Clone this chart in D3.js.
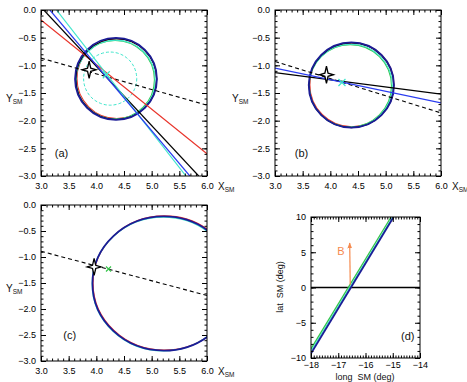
<!DOCTYPE html>
<html>
<head>
<meta charset="utf-8">
<script src="https://cdn.jsdelivr.net/npm/d3@7"></script>
<style>
  body { margin: 0; background: #fff; }
  text { font-family: "Liberation Sans", Arial, sans-serif; white-space: pre; }
</style>
</head>
<body>
<svg id="chart" width="467" height="382"></svg>
<script>
// Tick labels

const smXTicks = [3.0, 3.5, 4.0, 4.5, 5.0, 5.5, 6.0]
const smXLabels = ['3.0', '3.5', '4.0', '4.5', '5.0', '5.5', '6.0']
const smYTicks = [0, -0.5, -1.0, -1.5, -2.0, -2.5, -3.0]
const smYLabels = ['0.0', '−0.5', '−1.0', '−1.5', '−2.0', '−2.5', '−3.0']
const longTicks = [-18, -17, -16, -15, -14]
const longLabels = ['−18', '−17', '−16', '−15', '−14']
const latTicks = [10, 5, 0, -5, -10]
const latLabels = ['10', '5', '0', '−5', '−10']

// Panel (a): circles are [x, y, r]

const aCircles = [[4.37, -1.24, 0.72], [4.34, -1.26, 0.71], [4.35, -1.26, 0.715], [4.36, -1.25, 0.73], [4.355, -1.245, 0.74]]
const aInnerCircle = [4.25, -1.24, 0.48]
const aDashed = [[3.0, -0.87], [6.0, -1.72]]
const aRed = [[3.0, -0.18], [6.0, -2.60]]
const aBlack = [[3.05, 0], [5.85, -3.0]]
const aBlue = [[3.16, 0], [5.69, -3.0]]
const aCyan = [[3.28, 0], [5.62, -3.0]]
const aStar = [3.87, -1.08]
const aCross = [4.18, -1.17]

// Panel (b)

const bCircles = [[4.39, -1.35, 0.76], [4.36, -1.37, 0.745], [4.37, -1.37, 0.75], [4.38, -1.36, 0.765], [4.38, -1.355, 0.77]]
const bDashed = [[3.0, -0.93], [6.0, -1.86]]
const bBlack = [[3.0, -1.13], [6.0, -1.52]]
const bBlue = [[3.0, -1.05], [6.0, -1.68]]
const bStar = [3.93, -1.17]
const bCross = [4.21, -1.31]

// Panel (c)

const cCircles = [[5.23, -1.50, 1.29], [5.21, -1.52, 1.285], [5.22, -1.51, 1.29]]
const cDashed = [[3.0, -0.89], [6.0, -1.74]]
const cStar = [3.96, -1.19]
const cCross = [4.22, -1.23]

// Panel (d)

const dGreen = [[-18, -8.7], [-15.06, 10]]
const dCyan = [[-18, -9.0], [-15.0, 10]]
const dBlue = [[-18, -9.35], [-14.97, 10]]
const dZero = [[-18, 0], [-14, 0]]
const dArrow = [[-16.56, 0.4], [-16.58, 6.3]]
const dArrowLabel = [-16.9, 5.1]

const COLORS = {
  navy: '#1c1c96',
  blue: '#2a3cf0',
  red: '#e8332a',
  cyan: '#3fe6cc',
  green: '#36c44a',
  black: '#000',
  orange: '#f58a4e',
}

const svg = d3.select('#chart')

const defs = svg.append('defs')
defs.append('marker')
  .attr('id', 'arrow')
  .attr('viewBox', '0 0 10 10')
  .attr('refX', 9).attr('refY', 5)
  .attr('markerWidth', 5).attr('markerHeight', 5)
  .attr('orient', 'auto')
  .append('path')
  .attr('d', 'M0,1L10,5L0,9Z')
  .attr('fill', COLORS.orange)

function panel({ id, left, top, width, height, xDomain, yDomain, xt, xl, yt, yl, xMinor, yMinor, xPad = 7 }) {
  const x = d3.scaleLinear().domain(xDomain).range([0, width])
  const y = d3.scaleLinear().domain(yDomain).range([height, 0])
  const g = svg.append('g').attr('transform', `translate(${left},${top})`)

  defs.append('clipPath').attr('id', `clip-${id}`)
    .append('rect').attr('width', width).attr('height', height)

  const plot = g.append('g').attr('clip-path', `url(#clip-${id})`)

  // Axes, ticks pointing inward on all four sides
  const axes = [
    [d3.axisBottom, x, `translate(0,${height})`, xt, xl, xMinor, xPad],
    [d3.axisTop, x, 'translate(0,0)', xt, null, xMinor, 7],
    [d3.axisLeft, y, 'translate(0,0)', yt, yl, yMinor, 5],
    [d3.axisRight, y, `translate(${width},0)`, yt, null, yMinor, 5],
  ]
  axes.forEach(([axis, scale, tr, ticks, labels, minor, pad]) => {
    g.append('g').attr('transform', tr)
      .call(axis(scale).tickValues(scale.ticks(minor)).tickFormat('').tickSize(-2.5))
      .call(s => s.select('.domain').remove())
    const major = g.append('g').attr('transform', tr)
      .call(axis(scale).tickValues(ticks).tickSize(-5).tickPadding(pad)
        .tickFormat((d, i) => (labels ? labels[i] : '')))
    major.select('.domain').remove()
    major.attr('font-family', null).attr('font-size', 9).selectAll('text').attr('fill', '#000')
  })

  g.append('rect').attr('width', width).attr('height', height)
    .attr('fill', 'none').attr('stroke', '#000').attr('stroke-width', 1)

  return { g, plot, x, y }
}

function line(p, pts, color, width = 1.2, dash = null) {
  p.plot.append('path')
    .attr('d', d3.line().x(d => p.x(d[0])).y(d => p.y(d[1]))(pts))
    .attr('fill', 'none').attr('stroke', color).attr('stroke-width', width)
    .attr('stroke-dasharray', dash)
}

function circle(p, [cx, cy, r], color, width = 1.2, dash = null) {
  p.plot.append('ellipse')
    .attr('cx', p.x(cx)).attr('cy', p.y(cy))
    .attr('rx', p.x(cx + r) - p.x(cx)).attr('ry', p.y(cy) - p.y(cy + r))
    .attr('fill', 'none').attr('stroke', color).attr('stroke-width', width)
    .attr('stroke-dasharray', dash)
}

function star(p, [sx, sy]) {
  const cx = p.x(sx), cy = p.y(sy)
  const pts = [[0, -8.5], [1.6, -1.6], [7, 0], [1.6, 1.6], [0, 8.5], [-1.6, 1.6], [-7, 0], [-1.6, -1.6]]
  p.g.append('path')
    .attr('d', 'M' + pts.map(d => [cx + d[0], cy + d[1]].join(',')).join('L') + 'Z')
    .attr('fill', '#fff').attr('stroke', '#000').attr('stroke-width', 1.3)
}

function cross(p, [sx, sy], color, size = 3.5) {
  const cx = p.x(sx), cy = p.y(sy)
  p.g.append('path')
    .attr('d', `M${cx - size},${cy - size}L${cx + size},${cy + size}M${cx - size},${cy + size}L${cx + size},${cy - size}`)
    .attr('stroke', color).attr('stroke-width', 1.2)
}

function label(p, [lx, ly], text, opts = {}) {
  p.g.append('text')
    .attr('x', p.x(lx)).attr('y', p.y(ly))
    .attr('text-anchor', 'middle').attr('dy', '0.35em')
    .attr('font-size', opts.size || 11)
    .attr('fill', opts.color || '#111')
    .text(text)
}

function smLabel(x, y, letter) {
  const t = svg.append('text').attr('x', x).attr('y', y).attr('font-size', 10).attr('fill', '#111')
  t.append('tspan').text(letter)
  t.append('tspan').attr('font-size', 6.5).attr('dy', 2).text('SM')
}

const smAxes = { xDomain: [3, 6], yDomain: [-3, 0], xt: smXTicks, xl: smXLabels, yt: smYTicks, yl: smYLabels, xMinor: 30, yMinor: 30 }
const circleColors = [COLORS.red, COLORS.green, COLORS.cyan, COLORS.black, COLORS.navy]

// Panel (a)

const pa = panel({ id: 'a', left: 41, top: 10, width: 166, height: 166, ...smAxes })
aCircles.forEach((c, i) => circle(pa, c, circleColors[i], i === 4 ? 1.8 : 1.1))
circle(pa, aInnerCircle, COLORS.cyan, 1, '3,2')
line(pa, aDashed, COLORS.black, 1.1, '4,3')
line(pa, aRed, COLORS.red)
line(pa, aBlack, COLORS.black)
line(pa, aCyan, COLORS.cyan)
line(pa, aBlue, COLORS.blue)
star(pa, aStar)
cross(pa, aCross, COLORS.cyan)
label(pa, [3.37, -2.59], '(a)')
smLabel(218, 190, 'X')
smLabel(6, 102, 'Y')

// Panel (b)

const pb = panel({ id: 'b', left: 275, top: 10, width: 166, height: 166, ...smAxes })
bCircles.forEach((c, i) => circle(pb, c, circleColors[i], i === 4 ? 1.8 : 1.1))
line(pb, bDashed, COLORS.black, 1.1, '4,3')
line(pb, bBlack, COLORS.black)
line(pb, bBlue, COLORS.blue)
star(pb, bStar)
cross(pb, bCross, COLORS.cyan)
label(pb, [3.48, -2.59], '(b)')
smLabel(452, 190, 'X')
smLabel(232, 102, 'Y')

// Panel (c)

const pc = panel({ id: 'c', left: 41, top: 205, width: 166, height: 156, ...smAxes })
circle(pc, cCircles[0], COLORS.red, 1.2)
circle(pc, cCircles[1], COLORS.cyan, 1.2)
circle(pc, cCircles[2], COLORS.navy, 1.8)
line(pc, cDashed, COLORS.black, 1.1, '4,3')
star(pc, cStar)
cross(pc, cCross, COLORS.green, 2.5)
label(pc, [3.52, -2.5], '(c)')
smLabel(218, 375, 'X')
smLabel(6, 292, 'Y')

// Panel (d)

const pd = panel({
  id: 'd', left: 311, top: 217, width: 109, height: 141,
  xDomain: [-18, -14], yDomain: [-10, 10],
  xt: longTicks, xl: longLabels, yt: latTicks, yl: latLabels, xMinor: 40, yMinor: 20, xPad: 4,
})
line(pd, dZero, COLORS.black, 1.3)
line(pd, dGreen, COLORS.green, 1.3)
line(pd, dCyan, COLORS.cyan, 1.1)
line(pd, dBlue, COLORS.navy, 1.8)
pd.g.append('path')
  .attr('d', d3.line().x(d => pd.x(d[0])).y(d => pd.y(d[1]))(dArrow))
  .attr('stroke', COLORS.orange).attr('stroke-width', 1.2).attr('marker-end', 'url(#arrow)')
label(pd, dArrowLabel, 'B', { color: COLORS.orange, size: 11 })
label(pd, [-14.45, -6.9], '(d)')

svg.append('text').attr('x', 365).attr('y', 380)
  .attr('text-anchor', 'middle').attr('font-size', 9).attr('fill', '#111')
  .text('long  SM (deg)')
svg.append('text').attr('transform', 'translate(283,287) rotate(-90)')
  .attr('text-anchor', 'middle').attr('font-size', 9).attr('fill', '#111')
  .text('lat  SM (deg)')
</script>
</body>
</html>
